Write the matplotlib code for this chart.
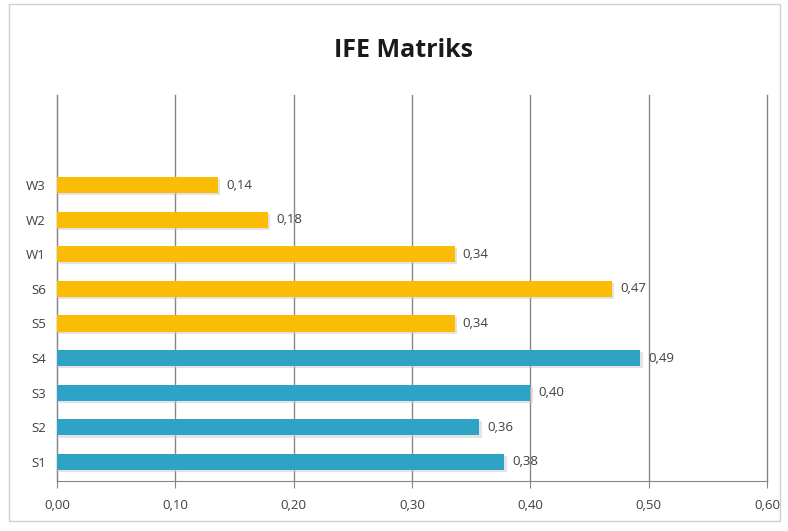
import matplotlib.pyplot as plt
from matplotlib.patches import Rectangle

# IFE matrix scores, bottom to top
labels = ['S1', 'S2', 'S3', 'S4', 'S5', 'S6', 'W1', 'W2', 'W3']
values = [0.378, 0.357, 0.400, 0.493, 0.336, 0.469, 0.336, 0.178, 0.136]
value_text = ['0,38', '0,36', '0,40', '0,49', '0,34', '0,47', '0,34', '0,18', '0,14']
colors = ['#2fa3c6'] * 4 + ['#fbbc05'] * 5
xticks = [0.0, 0.1, 0.2, 0.3, 0.4, 0.5, 0.6]

plt.rcParams['font.family'] = ['Open Sans', 'DejaVu Sans']

fig = plt.figure(figsize=(7.88, 5.31), dpi=100)
ax = fig.add_axes([0.0723, 0.0942, 0.9010, 0.7268])

pos = list(range(len(labels)))
# soft shadow under the bars
ax.barh([p - 0.06 for p in pos], values, height=0.47, color='#c8c8c8', alpha=0.5, zorder=2,
        left=0.002)
ax.barh(pos, values, height=0.47, color=colors, zorder=3)

for p, v, t in zip(pos, values, value_text):
    ax.text(v + 0.007, p, t, va='center', ha='left', fontsize=9.5, color='#404040', zorder=4)

ax.set_xlim(0, 0.6)
ax.set_ylim(-0.55, 10.6)
ax.set_xticks(xticks)
ax.set_xticklabels(['{:.2f}'.format(x).replace('.', ',') for x in xticks], fontsize=9.5, color='#404040')
ax.set_yticks(pos)
ax.set_yticklabels(labels, fontsize=9.5, color='#404040')
ax.tick_params(axis='x', length=5, color='#868686', pad=8)
ax.tick_params(axis='y', length=0, pad=8)
ax.grid(axis='x', color='#868686', linewidth=1, zorder=1)
for gl in ax.get_xgridlines():
    gl.set_clip_on(False)
for side in ['top', 'right']:
    ax.spines[side].set_visible(False)
ax.spines['left'].set_color('#868686')
ax.spines['bottom'].set_color('#868686')

fig.text(0.512, 0.905, 'IFE Matriks', ha='center', va='center', fontsize=18, fontweight='bold',
         color='#1a1a1a')

fig.patches.append(Rectangle((0.012, 0.018), 0.978, 0.975, transform=fig.transFigure,
                             fill=False, edgecolor='#d0d0d0', linewidth=1))

fig.savefig('out.png', dpi=100)
